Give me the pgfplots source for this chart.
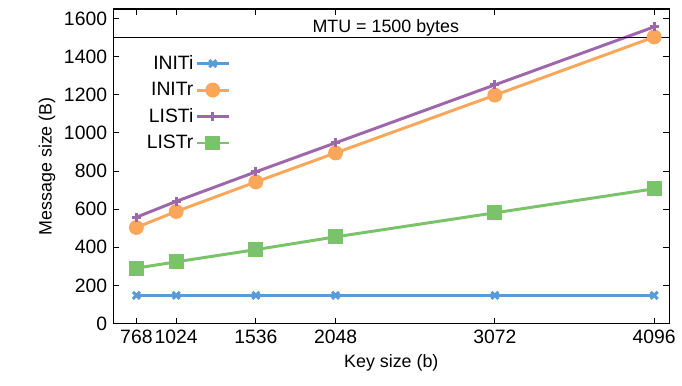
\documentclass[border=0pt]{standalone}
\usepackage{pgfplots}
\pgfplotsset{compat=1.18}
\usepackage{fontspec}
\setmainfont{Liberation Sans}
\definecolor{cblue}{HTML}{5A9BD4}
\definecolor{corange}{HTML}{FAA75B}
\definecolor{cpurple}{HTML}{9E67AB}
\definecolor{cgreen}{HTML}{7AC36A}
\begin{document}
\fontsize{19}{22}\selectfont
\begin{tikzpicture}
\begin{axis}[
  scale only axis,
  width=558bp, height=316bp,
  xmin=621, xmax=4192,
  ymin=0, ymax=1650,
  xtick={768,1024,1536,2048,3072,4096},
  ytick={0,200,...,1600},
  /pgf/number format/assume math mode=true,
  /pgf/number format/set thousands separator={},
  tick label style={font=\fontsize{19.5}{22}\selectfont},
  label style={font=\fontsize{18}{21}\selectfont},
  xlabel={Key size (b)},
  ylabel={Message size (B)},
  xlabel style={yshift=2bp},
  ylabel style={yshift=-4bp},
  tick align=inside,
  major tick length=6bp,
  axis line style={line width=1.1pt},
  every tick/.style={black, line width=1.1pt},
  legend plot pos=right,
  legend cell align=right,
  legend style={at={(rel axis cs:0.056,0.86)}, anchor=north west, draw=none, fill=none,
    font=\fontsize{19.5}{22}\selectfont, row sep=6bp, inner sep=0pt},
  legend image code/.code={\draw[mark repeat=2,mark phase=2] plot coordinates {(0bp,0bp) (16bp,0bp) (32bp,0bp)};},
]
\addplot[cblue, line width=3pt, mark=x, mark size=5pt, mark options={line width=3pt}] coordinates {
(768,148) (1024,148) (1536,148) (2048,148) (3072,148) (4096,148)};
\addlegendentry{INITi}
\addplot[corange, line width=3pt, mark=*, mark size=6pt] coordinates {
(768,504) (1024,588) (1536,743) (2048,895) (3072,1198) (4096,1503)};
\addlegendentry{INITr}
\addplot[cpurple, line width=3pt, mark=+, mark size=4.5pt, mark options={line width=3pt}] coordinates {
(768,558) (1024,641) (1536,796) (2048,948) (3072,1252) (4096,1556)};
\addlegendentry{LISTi}
\addplot[cgreen, line width=3pt, mark=square*, mark size=6pt] coordinates {
(768,291) (1024,324) (1536,388) (2048,455) (3072,581) (4096,707)};
\addlegendentry{LISTr}
\addplot[black, line width=0.9pt, forget plot] coordinates {(621,1500) (4192,1500)};
\node[anchor=base, font=\fontsize{18}{21}\selectfont] at (rel axis cs:0.49,0.925) {MTU = 1500 bytes};
\end{axis}
\path (-114bp,-62bp) rectangle (568bp,325bp);
\end{tikzpicture}
\end{document}
